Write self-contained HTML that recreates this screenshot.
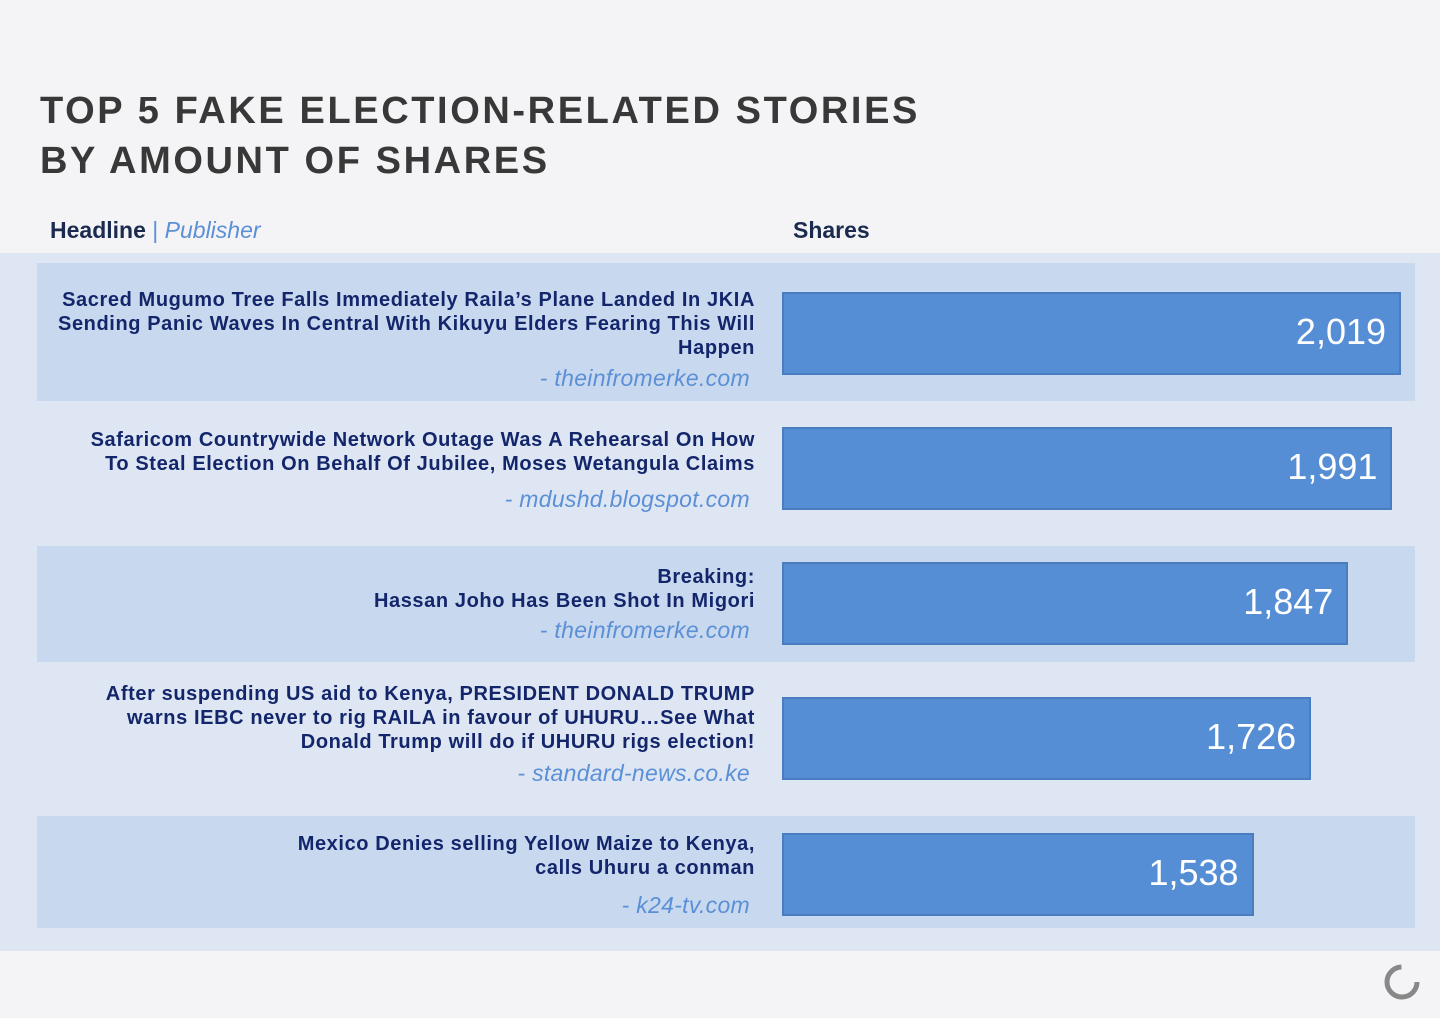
<!DOCTYPE html>
<html><head><meta charset="utf-8">
<style>
body{margin:0;width:1440px;height:1018px;background:#f4f4f6;font-family:"Liberation Sans",sans-serif;position:relative;overflow:hidden}
.abs{position:absolute}
#title{left:40px;top:86px;font-size:38px;letter-spacing:2.6px;color:#383838;line-height:50px;font-weight:bold}
.hdr{top:217px;font-size:23px;font-weight:bold;color:#1b2b4f}
#panel{left:0;top:253px;width:1440px;height:698px;background:#dde6f2}
.band{left:37px;width:1378px;background:#c8d9ef}
.hl{right:685px;text-align:right;font-weight:bold;font-size:20px;letter-spacing:0.6px;line-height:24px;color:#14266b;width:740px}
.pub{right:690px;text-align:right;font-style:italic;font-size:23px;letter-spacing:0.3px;color:#5b8fd6}
.bar{background:#558ed5;border:2px solid #4a7cc0;box-sizing:border-box}
.val{color:#fff;font-size:36px;text-align:right}
</style></head><body>
<div id="title" class="abs">TOP 5 FAKE ELECTION-RELATED STORIES<br>BY AMOUNT OF SHARES</div>
<div class="abs hdr" style="left:50px">Headline <span style="color:#5b8fd6;font-weight:normal">|</span> <span style="color:#5b8fd6;font-weight:normal;font-style:italic">Publisher</span></div>
<div class="abs hdr" style="left:793px">Shares</div>
<div id="panel" class="abs"></div>
<div id="rows"></div>
<svg class="abs" style="left:1378px;top:958px" width="48" height="48"><circle cx="24" cy="24" r="15" fill="none" stroke="#888" stroke-width="5" stroke-dasharray="70 30"/></svg>
<script>
const values=[2019,1991,1847,1726,1538];
const headlines=["Sacred Mugumo Tree Falls Immediately Raila’s Plane Landed In JKIA<br>Sending Panic Waves In Central With Kikuyu Elders Fearing This Will<br>Happen","Safaricom Countrywide Network Outage Was A Rehearsal On How<br>To Steal Election On Behalf Of Jubilee, Moses Wetangula Claims","Breaking:<br>Hassan Joho Has Been Shot In Migori","After suspending US aid to Kenya, PRESIDENT DONALD TRUMP<br>warns IEBC never to rig RAILA in favour of UHURU…See What<br>Donald Trump will do if UHURU rigs election!","Mexico Denies selling Yellow Maize to Kenya,<br>calls Uhuru a conman"];
const publishers=["- theinfromerke.com","- mdushd.blogspot.com","- theinfromerke.com","- standard-news.co.ke","- k24-tv.com"];
const bandTop=[263,401,546,662,816],bandH=[138,145,116,154,112];
const hlTop=[288,428,565,682,832],pubTop=[367,488,619,762,894];
const barTop=[292,427,562,697,833];
const x0=782,scale=0.3066;
const xs=v=>v*scale;
const root=document.getElementById('rows');
values.forEach((v,i)=>{
 if(i%2===0){const b=document.createElement('div');b.className='abs band';
 
 
 b.style.top=bandTop[i]+'px';b.style.height=bandH[i]+'px';root.appendChild(b);}
 const h=document.createElement('div');h.className='abs hl';h.innerHTML=headlines[i];
 
 
 h.style.top=hlTop[i]+'px';root.appendChild(h);
 const p=document.createElement('div');p.className='abs pub';p.textContent=publishers[i];
 
 
 p.style.top=(pubTop[i]-2)+'px';root.appendChild(p);
 const bar=document.createElement('div');bar.className='abs bar';
 
 
 bar.style.left=x0+'px';bar.style.top=barTop[i]+'px';bar.style.width=xs(v)+'px';bar.style.height='83px';root.appendChild(bar);
 const t=document.createElement('div');t.className='abs val';t.textContent=v.toLocaleString('en-US');
 
 
 t.style.left=x0+'px';t.style.width=(xs(v)-15)+'px';t.style.top=(barTop[i]+19)+'px';root.appendChild(t);
});
</script>
</body></html>
